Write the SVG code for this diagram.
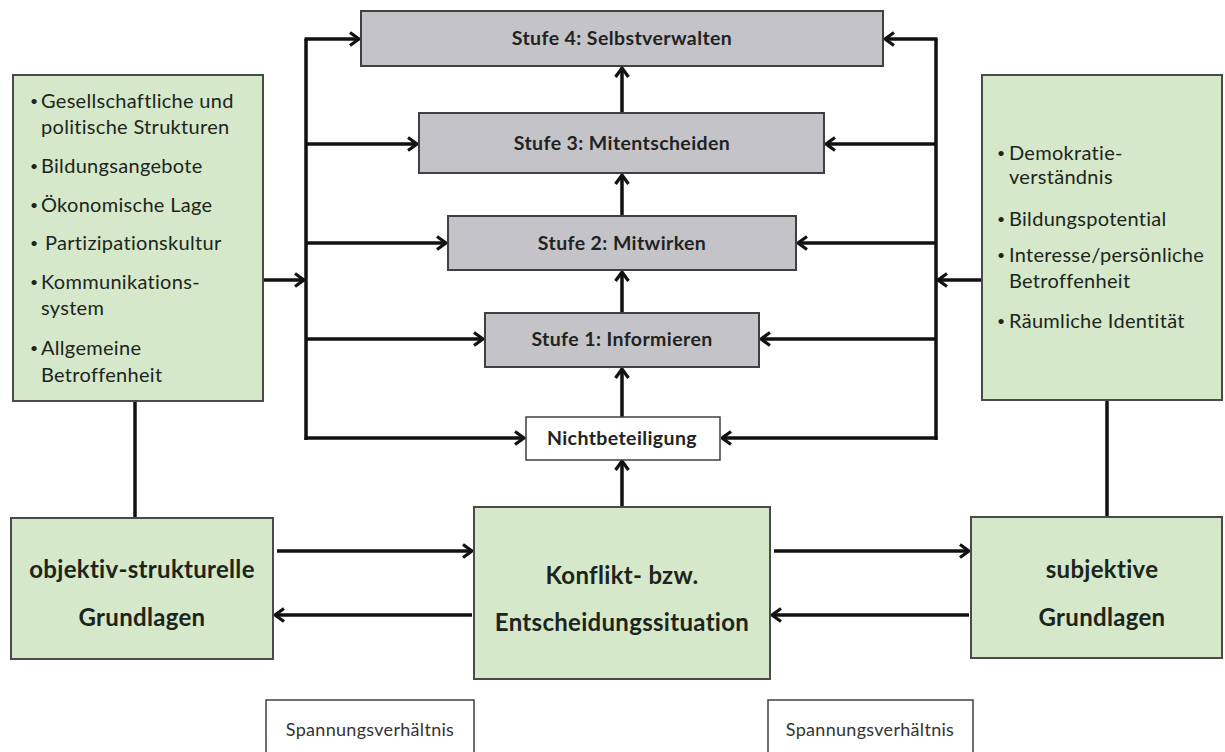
<svg xmlns="http://www.w3.org/2000/svg" width="1225" height="752" viewBox="0 0 1225 752">
<style>
.green{fill:#d5e8ca;stroke:#4a4a4a;stroke-width:2}
.gray{fill:#c4c4c8;stroke:#404040;stroke-width:2}
.white{fill:#ffffff;stroke:#404040;stroke-width:1.5}
.list{font-family:Lato,"Liberation Sans",sans-serif;font-size:20px;letter-spacing:0.3px;fill:#1c241c}
.b{font-size:14px}
.stufe{font-family:Lato,"Liberation Sans",sans-serif;font-size:19.5px;letter-spacing:0.4px;font-weight:bold;fill:#222;text-anchor:middle}
.big{font-family:Lato,"Liberation Sans",sans-serif;font-size:24px;letter-spacing:0.3px;font-weight:bold;fill:#1c241c;text-anchor:middle}
.small{font-family:Lato,"Liberation Sans",sans-serif;font-size:18px;letter-spacing:0.3px;fill:#333;text-anchor:middle}
.line{fill:none;stroke:#111;stroke-width:3.5}
.arr{marker-end:url(#ah)}
</style>
<defs>
<marker id="ah" viewBox="0 0 12 16" refX="10.5" refY="8" markerWidth="12" markerHeight="16" markerUnits="userSpaceOnUse" orient="auto">
<path d="M1.5,1.5 L10.5,8 L1.5,14.5" fill="none" stroke="#111" stroke-width="3.2" stroke-linejoin="miter"/>
</marker>
</defs>
<rect width="1225" height="752" fill="#ffffff"/>

<g id="connectors">
<path class="line" d="M306,39 V440"/>
<path class="line arr" d="M304.5,39 H359"/>
<path class="line arr" d="M306,144 H417"/>
<path class="line arr" d="M306,243 H446"/>
<path class="line arr" d="M306,339 H483"/>
<path class="line arr" d="M304.5,438 H524"/>
<path class="line arr" d="M263,280 H304"/>
<path class="line" d="M936,39 V440"/>
<path class="line arr" d="M937.5,39 H885"/>
<path class="line arr" d="M936,144 H826"/>
<path class="line arr" d="M936,243 H798"/>
<path class="line arr" d="M936,339 H761"/>
<path class="line arr" d="M937.5,438 H722"/>
<path class="line arr" d="M982,280 H938"/>
<path class="line arr" d="M622,507 V461"/>
<path class="line arr" d="M622,417 V369"/>
<path class="line arr" d="M622,313 V272"/>
<path class="line arr" d="M622,216 V175"/>
<path class="line arr" d="M622,113 V68"/>
<path class="line arr" d="M277,551 H472"/>
<path class="line arr" d="M472,615 H275"/>
<path class="line arr" d="M774,551 H969"/>
<path class="line arr" d="M969,615 H772"/>
<path class="line" d="M135,401 V518"/>
<path class="line" d="M1107,400 V517"/>
</g>

<g id="left-list">
<rect class="green" x="13" y="75" width="250" height="326"/>
<text class="list"><tspan class="b" x="30" y="106">•</tspan><tspan x="41" y="108">Gesellschaftliche und</tspan><tspan x="41" y="134">politische Strukturen</tspan>
<tspan class="b" x="30" y="171">•</tspan><tspan x="41" y="173">Bildungsangebote</tspan>
<tspan class="b" x="30" y="210">•</tspan><tspan x="41" y="212">Ökonomische Lage</tspan>
<tspan class="b" x="30" y="248">•</tspan><tspan x="45" y="250">Partizipationskultur</tspan>
<tspan class="b" x="30" y="287">•</tspan><tspan x="41" y="289">Kommunikations-</tspan><tspan x="41" y="315">system</tspan>
<tspan class="b" x="30" y="353">•</tspan><tspan x="41" y="355">Allgemeine</tspan><tspan x="41" y="382">Betroffenheit</tspan></text>
</g>

<g id="right-list">
<rect class="green" x="982" y="75" width="240" height="325"/>
<text class="list"><tspan class="b" x="997" y="158">•</tspan><tspan x="1009" y="160">Demokratie-</tspan><tspan x="1009" y="184">verständnis</tspan>
<tspan class="b" x="997" y="224">•</tspan><tspan x="1009" y="226">Bildungspotential</tspan>
<tspan class="b" x="997" y="260">•</tspan><tspan x="1009" y="262">Interesse/persönliche</tspan><tspan x="1009" y="288">Betroffenheit</tspan>
<tspan class="b" x="997" y="326">•</tspan><tspan x="1009" y="328">Räumliche Identität</tspan></text>
</g>

<g id="stufe4">
<rect class="gray" x="361" y="11" width="522" height="55"/>
<text class="stufe" x="622" y="45">Stufe 4: Selbstverwalten</text>
</g>
<g id="stufe3">
<rect class="gray" x="419" y="113" width="405" height="60"/>
<text class="stufe" x="622" y="150">Stufe 3: Mitentscheiden</text>
</g>
<g id="stufe2">
<rect class="gray" x="448" y="216" width="348" height="54"/>
<text class="stufe" x="622" y="250">Stufe 2: Mitwirken</text>
</g>
<g id="stufe1">
<rect class="gray" x="485" y="313" width="274" height="54"/>
<text class="stufe" x="622" y="346">Stufe 1: Informieren</text>
</g>
<g id="nichtbeteiligung">
<rect class="white" x="526" y="417" width="194" height="43"/>
<text class="stufe" x="622" y="445">Nichtbeteiligung</text>
</g>

<g id="objektiv">
<rect class="green" x="11" y="518" width="262" height="141"/>
<text class="big" x="142" y="578">objektiv-strukturelle</text>
<text class="big" x="142" y="626">Grundlagen</text>
</g>
<g id="konflikt">
<rect class="green" x="474" y="507" width="296" height="172"/>
<text class="big" x="622" y="584">Konflikt- bzw.</text>
<text class="big" x="622" y="631">Entscheidungssituation</text>
</g>
<g id="subjektiv">
<rect class="green" x="971" y="517" width="251" height="141"/>
<text class="big" x="1102" y="578">subjektive</text>
<text class="big" x="1102" y="626">Grundlagen</text>
</g>

<g id="spannung-left">
<rect class="white" x="266" y="700" width="208" height="60"/>
<text class="small" x="370" y="736">Spannungsverhältnis</text>
</g>
<g id="spannung-right">
<rect class="white" x="768" y="700" width="205" height="60"/>
<text class="small" x="870" y="736">Spannungsverhältnis</text>
</g>
</svg>
